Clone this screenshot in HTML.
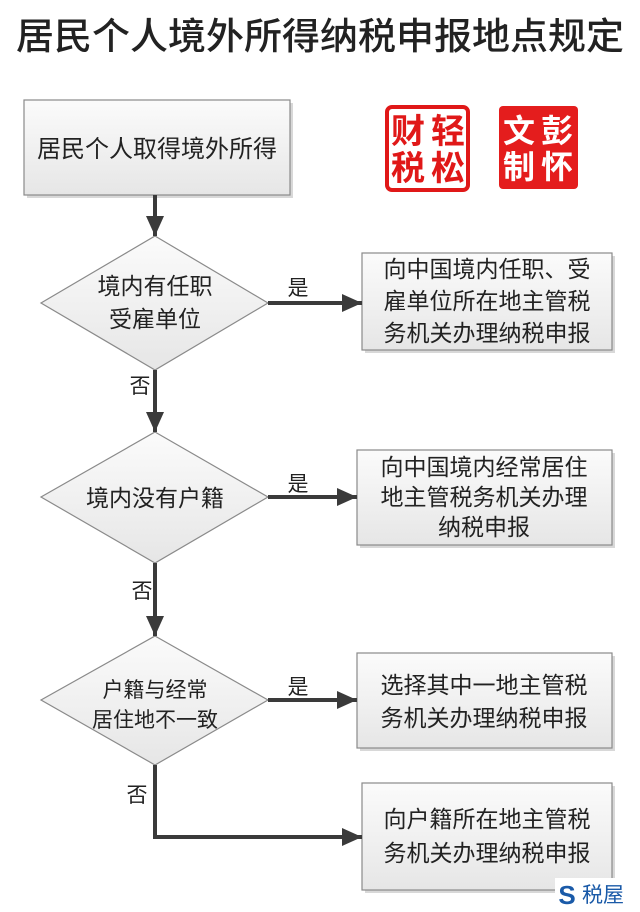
<!DOCTYPE html>
<html><head><meta charset="utf-8"><style>
html,body{margin:0;padding:0;background:#fff;width:640px;height:912px;overflow:hidden}
svg{display:block}
text{font-family:"Liberation Sans","Noto Sans CJK SC",sans-serif;fill:#222}
</style></head><body>
<svg width="640" height="912" viewBox="0 0 640 912" xmlns="http://www.w3.org/2000/svg">
<defs>
<linearGradient id="g" x1="0" y1="0" x2="0" y2="1"><stop offset="0" stop-color="#fbfbfb"/><stop offset="1" stop-color="#e6e6e6"/></linearGradient>
<marker id="a" markerWidth="20" markerHeight="18" refX="20" refY="9" orient="auto" markerUnits="userSpaceOnUse" viewBox="0 0 20 18"><path d="M0,0 L20,9 L0,18z" fill="#3a3a3a"/></marker>
</defs>
<text x="320" y="49" text-anchor="middle" font-size="37" style="font-weight:500" textLength="608" lengthAdjust="spacingAndGlyphs">居民个人境外所得纳税申报地点规定</text>

<g fill="#d8d8d8">
<rect x="27" y="103" width="266" height="95"/>
<rect x="365" y="256" width="250" height="97"/>
<rect x="360" y="453" width="255" height="95"/>
<rect x="360" y="656" width="255" height="95"/>
<rect x="365" y="786" width="250" height="107"/>
</g>
<g fill="url(#g)" stroke="#8a8a8a" stroke-width="1.2">
<rect x="24" y="100" width="266" height="95"/>
<rect x="362" y="253" width="250" height="97"/>
<rect x="357" y="450" width="255" height="95"/>
<rect x="357" y="653" width="255" height="95"/>
<rect x="362" y="783" width="250" height="107"/>
<polygon points="155,236 268,303 155,370 41,303"/>
<polygon points="155,432 268,497 155,563 41,497"/>
<polygon points="155,636 268,700 155,765 41,700"/>
</g>

<g stroke="#3a3a3a" stroke-width="4" fill="none">
<line x1="155" y1="195" x2="155" y2="236" marker-end="url(#a)"/>
<line x1="268" y1="303" x2="362" y2="303" marker-end="url(#a)"/>
<line x1="155" y1="370" x2="155" y2="432" marker-end="url(#a)"/>
<line x1="268" y1="497" x2="357" y2="497" marker-end="url(#a)"/>
<line x1="155" y1="563" x2="155" y2="636" marker-end="url(#a)"/>
<line x1="268" y1="700" x2="357" y2="700" marker-end="url(#a)"/>
<polyline points="155,765 155,837 362,837" marker-end="url(#a)"/>
</g>

<g font-size="23">
<text x="157" y="157" text-anchor="middle" font-size="24">居民个人取得境外所得</text>
<text x="155" y="294" text-anchor="middle">境内有任职</text>
<text x="155" y="327" text-anchor="middle">受雇单位</text>
<text x="155" y="506" text-anchor="middle">境内没有户籍</text>
<text x="155" y="697" text-anchor="middle" font-size="21">户籍与经常</text>
<text x="155" y="727" text-anchor="middle" font-size="21">居住地不一致</text>
<text x="298" y="295" text-anchor="middle" font-size="21">是</text>
<text x="298" y="491" text-anchor="middle" font-size="21">是</text>
<text x="298" y="694" text-anchor="middle" font-size="21">是</text>
<text x="140" y="393" text-anchor="middle" font-size="21">否</text>
<text x="142" y="598" text-anchor="middle" font-size="21">否</text>
<text x="137" y="802" text-anchor="middle" font-size="21">否</text>
<text x="487" y="277" text-anchor="middle">向中国境内任职、受</text>
<text x="487" y="309" text-anchor="middle">雇单位所在地主管税</text>
<text x="487" y="341" text-anchor="middle">务机关办理纳税申报</text>
<text x="484" y="475" text-anchor="middle">向中国境内经常居住</text>
<text x="484" y="505" text-anchor="middle">地主管税务机关办理</text>
<text x="484" y="535" text-anchor="middle">纳税申报</text>
<text x="484" y="693" text-anchor="middle">选择其中一地主管税</text>
<text x="484" y="726" text-anchor="middle">务机关办理纳税申报</text>
<text x="487" y="827" text-anchor="middle">向户籍所在地主管税</text>
<text x="487" y="861" text-anchor="middle">务机关办理纳税申报</text>
</g>

<rect x="387" y="107" width="81" height="83" rx="5" fill="#fff" stroke="#e01818" stroke-width="4"/>
<g font-size="34" style="font-weight:bold">
<text x="408" y="143" text-anchor="middle" style="fill:#e01818">财</text>
<text x="448" y="143" text-anchor="middle" style="fill:#e01818">轻</text>
<text x="408" y="180" text-anchor="middle" style="fill:#e01818">税</text>
<text x="448" y="180" text-anchor="middle" style="fill:#e01818">松</text>
</g>
<rect x="499" y="106" width="79" height="83" rx="4" fill="#e41d1d"/>
<g font-size="32" style="font-weight:bold">
<text x="519" y="142" text-anchor="middle" style="fill:#fff">文</text>
<text x="557" y="142" text-anchor="middle" style="fill:#fff">彭</text>
<text x="519" y="178" text-anchor="middle" style="fill:#fff">制</text>
<text x="557" y="178" text-anchor="middle" style="fill:#fff">怀</text>
</g>

<rect x="555" y="878" width="85" height="34" fill="#fff"/>
<text x="567" y="904" text-anchor="middle" font-size="26" style="fill:#1a5aa8;font-weight:bold">S</text>
<text x="603" y="902" text-anchor="middle" font-size="21" style="fill:#1a5aa8">税屋</text>
</svg>
</body></html>
